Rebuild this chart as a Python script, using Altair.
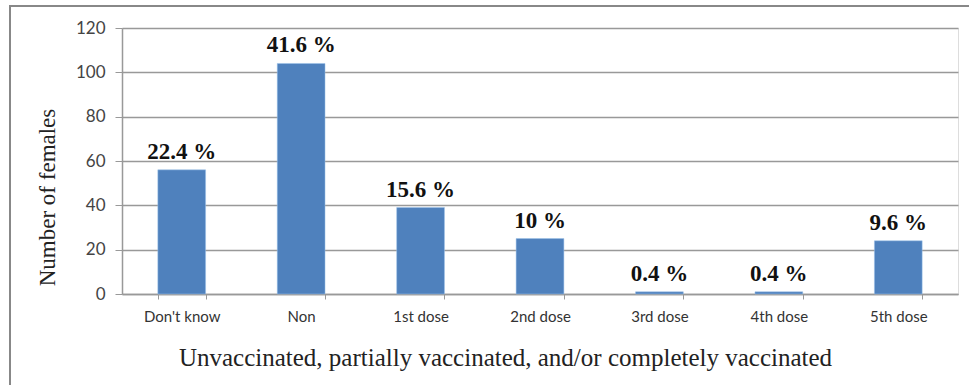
import altair as alt
import pandas as pd

categories = ["Don't know", "Non", "1st dose", "2nd dose", "3rd dose", "4th dose", "5th dose"]
counts = [56, 104, 39, 25, 1, 1, 24]
labels = ["22.4 %", "41.6 %", "15.6 %", "10 %", "0.4 %", "0.4 %", "9.6 %"]

df = pd.DataFrame({"cat": categories, "n": counts, "lab": labels})

W, H = 836, 266

x = alt.X("cat:N", sort=categories,
          scale=alt.Scale(paddingInner=0.6, paddingOuter=0.3),
          axis=alt.Axis(title="Unvaccinated, partially vaccinated, and/or completely vaccinated",
                        titleFont="Liberation Serif", titleFontSize=25, titleFontWeight="normal",
                        titleColor="#222222", titleX=383, titleY=63, titleAlign="center",
                        titleBaseline="middle", titleAnchor="middle",
                        labelFont="Lato", labelFontSize=15, labelColor="#333333",
                        labelAngle=0, labelPadding=10,
                        tickBand="extent", tickSize=5, tickColor="#999999",
                        domainColor="#999999", domainWidth=1.5, grid=False))

y_axis = alt.Axis(title="Number of females", values=[0, 20, 40, 60, 80, 100, 120],
                  titleFont="Liberation Serif", titleFontSize=23, titleFontWeight="normal",
                  titleColor="#222222", titleX=-75, titleY=169, titleAlign="center",
                  titleBaseline="middle", titleAngle=270,
                  labelFont="Lato", labelFontSize=17, labelColor="#444444", labelPadding=10,
                  tickSize=7, tickColor="#999999", domainColor="#999999", domainWidth=1.5,
                  grid=True, gridColor="#999999", gridWidth=1.3)

bars = alt.Chart(df).mark_bar(color="#4F81BD", stroke="#9cc3ea", strokeWidth=0.5).encode(
    x=x,
    y=alt.Y("n:Q", scale=alt.Scale(domain=[0, 120], nice=False), axis=y_axis),
)

text = alt.Chart(df).mark_text(font="Liberation Serif", fontSize=23, fontWeight="bold",
                               color="#111111", baseline="bottom", dy=-6).encode(
    x=alt.X("cat:N", sort=categories),
    y=alt.Y("n:Q"),
    text="lab:N",
)

border = alt.Chart(df).mark_rect(fill=None, stroke="#888888", strokeWidth=2).encode(
    x=alt.value(-112), x2=alt.value(900), y=alt.value(-22), y2=alt.value(370)
)

chart = alt.layer(bars, text, border).properties(
    width=W, height=H,
    padding={"left": 122, "top": 28, "right": 11, "bottom": 91},
    autosize=alt.AutoSizeParams(type="none"),
).configure_view(stroke=None).configure(background="white")

chart.save("out.html", embed_options={"renderer": "svg", "actions": False})
